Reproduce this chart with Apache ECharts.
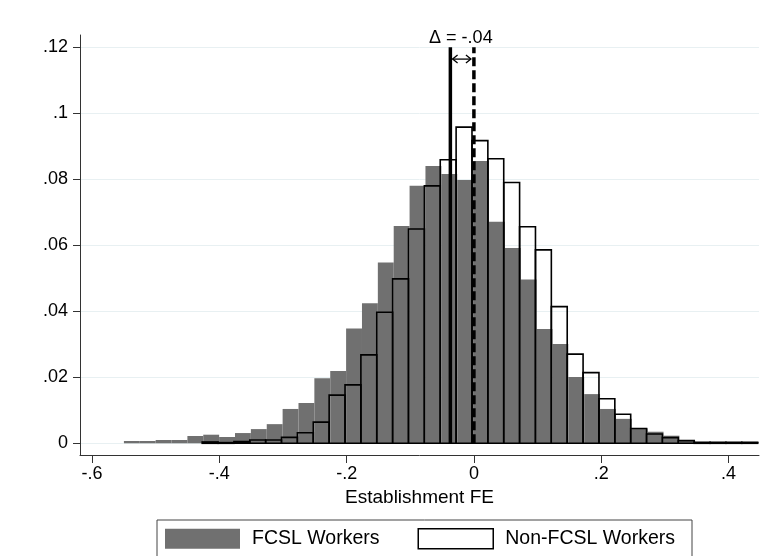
<!DOCTYPE html>
<html>
<head>
<meta charset="utf-8">
<script src="https://cdn.jsdelivr.net/npm/echarts@6/dist/echarts.min.js"></script>
<style>
  html, body { margin: 0; padding: 0; background: #fff; }
  #main { width: 761px; height: 556px; }
</style>
</head>
<body>
<div id="main"></div>
<script>
// histogram bins (left edge of first bin, bin width)
var fcslStart = -0.55;
var nonFcslStart = -0.427;
var binWidth = 0.02494;

// densities per bin
var fcslHeights = [
  0.0007, 0.0007, 0.0010, 0.0010, 0.0022, 0.0026, 0.0019, 0.0031, 0.0043, 0.0058,
  0.0104, 0.0122, 0.0197, 0.0219, 0.0348, 0.0424, 0.0548, 0.0658, 0.0780, 0.0840,
  0.0816, 0.0798, 0.0855, 0.0671, 0.0592, 0.0496, 0.0346, 0.0301, 0.0201, 0.0149,
  0.0104, 0.0074, 0.0045, 0.0035, 0.0023, 0.0008, 0.0004, 0.0004, 0.0004, 0.0004
];
var nonFcslHeights = [
  0.0004, 0.0002, 0.0005, 0.0010, 0.0010, 0.0018, 0.0032, 0.0064, 0.0146, 0.0177,
  0.0268, 0.0397, 0.0498, 0.0649, 0.0780, 0.0859, 0.0958, 0.0917, 0.0862, 0.0790,
  0.0656, 0.0586, 0.0414, 0.0270, 0.0214, 0.0135, 0.0088, 0.0045, 0.0028, 0.0017,
  0.0008, 0.0003, 0.0003, 0.0003, 0.0003
];

// group means (vertical lines)
var fcslMean = -0.037;
var nonFcslMean = 0;
var deltaLabel = '\u0394 = -.04';

var xTicks = [-0.6, -0.4, -0.2, 0, 0.2, 0.4];
var yTicks = [0, 0.02, 0.04, 0.06, 0.08, 0.1, 0.12];

var FONT = '"Liberation Sans", Arial, Helvetica, sans-serif';

function toBins(start, heights) {
  return heights.map(function (h, i) {
    var x0 = start + i * binWidth;
    return [x0, x0 + binWidth, h];
  });
}

function stataFmt(v) {
  var s = String(parseFloat(v.toFixed(3)));
  return s.replace('0.', '.');
}

function histItem(fill, stroke, lw) {
  return function (params, api) {
    var p0 = api.coord([api.value(0), 0]);
    var p1 = api.coord([api.value(1), api.value(2)]);
    return {
      type: 'rect',
      shape: { x: p0[0], y: p1[1], width: p1[0] - p0[0], height: p0[1] - p1[1] },
      style: { fill: fill, stroke: stroke, lineWidth: lw }
    };
  };
}

var chart = echarts.init(document.getElementById('main'), null, { renderer: 'canvas' });

var option = {
  animation: false,
  backgroundColor: '#fff',
  grid: {
    left: 80, right: 2, top: 35, bottom: 101,
    containLabel: false, outerBoundsMode: 'none'
  },
  legend: {
    left: 157, top: 520,
    orient: 'horizontal',
    padding: [8, 17, 8, 8],
    itemGap: 38,
    itemWidth: 75,
    itemHeight: 20,
    borderColor: '#444',
    borderWidth: 1,
    backgroundColor: '#fff',
    selectedMode: false,
    textStyle: { fontFamily: FONT, fontSize: 19.5, color: '#000', padding: [0, 0, 0, 7] },
    data: [
      { name: 'FCSL Workers', icon: 'rect', itemStyle: { color: '#707070', borderWidth: 0 } },
      { name: 'Non-FCSL Workers', icon: 'rect', itemStyle: { color: '#fff', borderColor: '#000', borderWidth: 1.5 } }
    ]
  },
  xAxis: {
    type: 'value',
    min: -0.619, max: 0.448,
    name: 'Establishment FE',
    nameLocation: 'middle',
    nameGap: 27,
    nameTextStyle: { fontFamily: FONT, fontSize: 19, color: '#000' },
    axisLine: { show: true, onZero: false, lineStyle: { color: '#333', width: 1 } },
    axisTick: { show: true, length: 8, customValues: xTicks, lineStyle: { color: '#333' } },
    axisLabel: {
      customValues: xTicks, margin: 10,
      fontFamily: FONT, fontSize: 18, color: '#000',
      formatter: stataFmt
    },
    splitLine: { show: false }
  },
  yAxis: {
    type: 'value',
    min: -0.00355, max: 0.1237,
    axisLine: { show: true, onZero: false, lineStyle: { color: '#333', width: 1 } },
    axisTick: { show: true, length: 7, customValues: yTicks, lineStyle: { color: '#333' } },
    axisLabel: {
      customValues: yTicks, margin: 12,
      fontFamily: FONT, fontSize: 18, color: '#000',
      formatter: stataFmt
    },
    splitLine: { show: true, lineStyle: { color: '#e8f0f2', width: 1 } }
  },
  series: [
    {
      name: 'FCSL Workers',
      type: 'custom',
      renderItem: histItem('#707070', null, 0),
      encode: { x: [0, 1], y: 2 },
      itemStyle: { color: '#707070' },
      data: toBins(fcslStart, fcslHeights),
      z: 2
    },
    {
      name: 'Non-FCSL Workers',
      type: 'custom',
      renderItem: histItem('none', '#000', 1.6),
      encode: { x: [0, 1], y: 2 },
      itemStyle: { color: '#fff' },
      data: toBins(nonFcslStart, nonFcslHeights),
      z: 3
    },
    {
      type: 'line',
      data: [[fcslMean, 0], [fcslMean, 0.12]],
      symbol: 'none',
      lineStyle: { color: '#000', width: 3.5 },
      z: 4
    },
    {
      type: 'line',
      data: [[nonFcslMean, 0], [nonFcslMean, 0.12]],
      symbol: 'none',
      lineStyle: { color: '#000', width: 3.5, type: [9, 4] },
      z: 4
    },
    {
      // delta annotation: double arrow between the two means, label above
      type: 'custom',
      clip: false,
      z: 5,
      encode: { x: 0, y: 1 },
      data: [[fcslMean, nonFcslMean]],
      renderItem: function (params, api) {
        var a = api.coord([fcslMean + 0.0035, 0.1164]);
        var b = api.coord([nonFcslMean - 0.0047, 0.1164]);
        var t = api.coord([(fcslMean + nonFcslMean) / 2 - 0.002, 0.1229]);
        var ls = { stroke: '#000', lineWidth: 1.3, fill: 'none' };
        return {
          type: 'group',
          children: [
            { type: 'line', shape: { x1: a[0], y1: a[1], x2: b[0], y2: b[1] }, style: ls },
            { type: 'polyline', shape: { points: [[a[0] + 5, a[1] - 4], [a[0], a[1]], [a[0] + 5, a[1] + 4]] }, style: ls },
            { type: 'polyline', shape: { points: [[b[0] - 5, b[1] - 4], [b[0], b[1]], [b[0] - 5, b[1] + 4]] }, style: ls },
            {
              type: 'text', x: t[0], y: t[1],
              style: {
                text: deltaLabel, fill: '#000', font: '18px ' + FONT,
                align: 'center', verticalAlign: 'middle'
              }
            }
          ]
        };
      }
    }
  ]
};

chart.setOption(option);
</script>
</body>
</html>
